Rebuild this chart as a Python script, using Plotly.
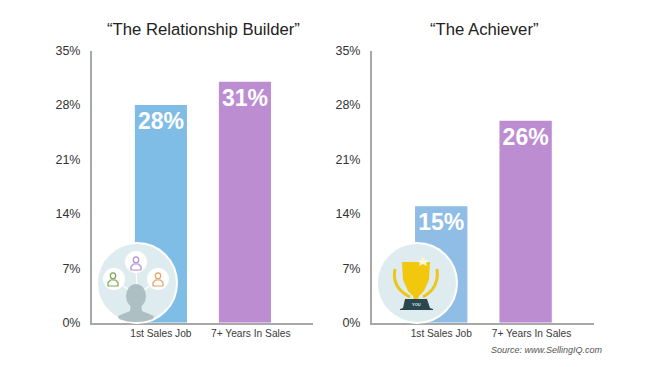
import plotly.graph_objects as go

categories = ["1st Sales Job", "7+ Years In Sales"]
builder_values = [28, 31]
achiever_values = [15, 26]
bar_colors_left = ["#80bde6", "#bd8dd2"]
bar_colors_right = ["#8fbde6", "#bd8dd2"]
y_ticks = [0, 7, 14, 21, 28, 35]
titles = ["“The Relationship Builder”", "“The Achiever”"]
source = "Source: www.SellingIQ.com"

PAGE_MARGIN = 8
W, H = 669 - PAGE_MARGIN, 367 - PAGE_MARGIN
FONT = "Liberation Sans"


def X(px):
    return (px - PAGE_MARGIN) / W


def Y(py):
    return 1 - (py - PAGE_MARGIN) / H


def poly(points, close=True):
    s = "M" + " L".join(f"{X(a):.5f},{Y(b):.5f}" for a, b in points)
    return s + (" Z" if close else "")


def shp(path, fill="rgba(0,0,0,0)", line=None, width=0):
    return dict(type="path", xref="paper", yref="paper", path=path, fillcolor=fill,
                line=dict(color=line or "rgba(0,0,0,0)", width=width), layer="above")


def circ(cx, cy, rx, ry=None, fill="white", line=None, width=0):
    ry = ry or rx
    return dict(type="circle", xref="paper", yref="paper", x0=X(cx - rx), x1=X(cx + rx),
                y0=Y(cy + ry), y1=Y(cy - ry), fillcolor=fill,
                line=dict(color=line or "rgba(0,0,0,0)", width=width), layer="above")


def person(cx, cy, color):
    return [
        circ(cx, cy - 3.2, 2.7, 3, "rgba(0,0,0,0)", color, 1.2),
        shp(poly([(cx - 5, cy + 7), (cx - 5, cy + 3.5), (cx - 2.5, cy + 1), (cx + 2.5, cy + 1),
                  (cx + 5, cy + 3.5), (cx + 5, cy + 7)]), "rgba(0,0,0,0)", color, 1.2),
    ]


shapes = []
# relationship icon
cx, cy = 137, 283
shapes.append(circ(cx, cy, 40, fill="#dfecef", line="white", width=2))
for a, b in [(136, 263), (114, 280), (158, 280)]:
    shapes.append(shp(poly([(cx, 295), (a, b)], False), line="white", width=1.2))
shapes.append(circ(136, 262, 11))
shapes.append(circ(114, 279, 11))
shapes.append(circ(158, 279, 11))
shapes += person(136, 263, "#b68dcf")
shapes += person(113, 279, "#7fa558")
shapes += person(158, 279, "#e2a263")
shapes.append(circ(136, 296, 10, 12, "#aebfc4"))
shapes.append(shp(poly([(131, 303), (141, 303), (142, 311), (154, 316), (153, 319), (144, 321.5),
                        (136, 322), (127, 321.5), (119, 319), (118, 316), (130, 311)]), "#aebfc4"))

# trophy icon
cx, cy = 417, 283
shapes.append(circ(cx, cy, 40, fill="#dfecef", line="white", width=2))
tx = 340
shapes.append(shp(f"M{X(tx+55):.5f},{Y(269):.5f} C{X(tx+52):.5f},{Y(284):.5f} {X(tx+60):.5f},{Y(292):.5f} {X(tx+70):.5f},{Y(297):.5f}",
                  line="#eec51a", width=3))
shapes.append(shp(f"M{X(tx+97):.5f},{Y(269):.5f} C{X(tx+99):.5f},{Y(284):.5f} {X(tx+92):.5f},{Y(292):.5f} {X(tx+83):.5f},{Y(297):.5f}",
                  line="#eec51a", width=3))
shapes.append(shp(poly([(tx + 62, 262), (tx + 90, 262), (tx + 89, 280), (tx + 84, 291), (tx + 79, 296),
                        (tx + 78, 300), (tx + 74, 300), (tx + 73, 296), (tx + 68, 291), (tx + 63, 280)]), "#f2c80f"))
shapes.append(shp(poly([(tx + 65, 299), (tx + 87, 299), (tx + 90, 308), (tx + 93, 309),
                        (tx + 93, 310), (tx + 60, 310), (tx + 60, 309), (tx + 63, 308)]), "#2a474f"))
shapes.append(shp(poly([(tx + 83, 257), (tx + 85, 260), (tx + 89, 261), (tx + 86, 263), (tx + 87, 266),
                        (tx + 83, 264), (tx + 79, 266), (tx + 80, 263), (tx + 78, 261), (tx + 81, 260)]), "#fdf7e0"))

fig = go.Figure()
fig.add_trace(go.Bar(x=[0, 1], y=builder_values, width=0.62, marker_color=bar_colors_left,
                     text=[f"{v}%" for v in builder_values], xaxis="x", yaxis="y"))
fig.add_trace(go.Bar(x=[0, 1], y=achiever_values, width=0.62, marker_color=bar_colors_right,
                     text=[f"{v}%" for v in achiever_values], xaxis="x2", yaxis="y2"))
fig.update_traces(textposition="inside", insidetextanchor="end", textangle=0, cliponaxis=False,
                  constraintext="none", hoverinfo="skip",
                  textfont=dict(family=FONT, size=23, color="white", weight="bold"), marker_line_width=0)

AXIS = "#a8a8a8"
xcommon = dict(range=[-0.82, 1.81], tickmode="array", tickvals=[0, 1.07], ticktext=categories,
               showgrid=False, zeroline=False, showline=True, linecolor=AXIS, linewidth=2, ticks="",
               automargin=False, tickfont=dict(family=FONT, size=10.2, color="#3a3a3a"))
ycommon = dict(range=[0, 35], tickmode="array", tickvals=y_ticks, ticktext=[f"{v}%" for v in y_ticks],
               showgrid=False, zeroline=False, showline=True, linecolor=AXIS, linewidth=2, ticks="",
               automargin=False, ticklabelstandoff=7, tickfont=dict(family=FONT, size=12.5, color="#333333"))


def label(text, x, y, size, color, xanchor="center"):
    return dict(text=text, xref="paper", yref="paper", x=X(x), y=Y(y), xanchor=xanchor, yanchor="middle",
                showarrow=False, font=dict(family=FONT, size=size, color=color))


fig.update_layout(
    width=W, height=H, margin=dict(l=0, r=0, t=0, b=0, autoexpand=False), paper_bgcolor="white",
    plot_bgcolor="white", showlegend=False, shapes=shapes,
    xaxis=dict(domain=[X(92), X(313)], anchor="y", **xcommon),
    yaxis=dict(domain=[Y(322.7), Y(50.7)], anchor="x", **ycommon),
    xaxis2=dict(domain=[X(372), X(594)], anchor="y2", **xcommon),
    yaxis2=dict(domain=[Y(322.7), Y(50.7)], anchor="x2", **ycommon),
    annotations=[
        label(titles[0], 203, 29, 16.7, "#222222"),
        label(titles[1], 484, 29, 16.7, "#222222"),
        label(f"<i>{source}</i>", 605, 350, 9, "#555555", "right"),
        label("<b>YOU</b>", 416, 304, 4, "#dfecef"),
    ],
)
fig.write_html("out.html")
